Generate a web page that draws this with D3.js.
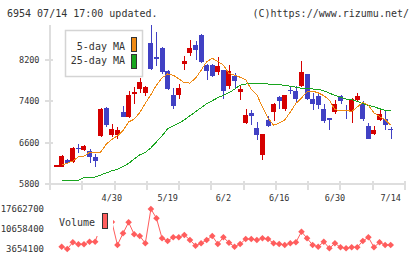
<!DOCTYPE html>
<html>
<head>
<meta charset="utf-8">
<script src="https://cdn.jsdelivr.net/npm/d3@7"></script>
<style>
  body { margin: 0; background: #fff; }
  svg { display: block; }
  text { font-family: "DejaVu Sans Mono", monospace; fill: #333; }
</style>
</head>
<body>
<div id="chart"></div>
<script>
// daily candles, oldest first (last one is 07/14)
var opens = [6160, 6135, 6265, 6232, 6497, 6459, 6433, 6329, 6730, 7259,
             6749, 6749, 7189, 7092, 7555, 7640, 7557, 8525, 8254, 8434,
             7982, 7524, 7524, 8125, 8337, 8479, 8686, 8105, 8105, 7956,
             8008, 7685, 7879, 7582, 6987, 7170, 6878, 6362, 7040, 7181,
             7479, 7253, 7621, 7588, 7698, 7931, 7447, 7505, 7253, 7073,
             7181, 7505, 7233, 7200, 7414, 7350, 6923, 6768, 7040, 7059, 6865];
var highs = [6166, 6360, 6280, 6510, 6575, 6560, 6484, 6381, 7265, 7278,
             6949, 6910, 7297, 7601, 7673, 7853, 7698, 8880, 8731, 8440,
             7995, 7654, 7737, 8279, 8576, 8556, 8705, 8110, 8120, 8254,
             8010, 8092, 7944, 7718, 7253, 7220, 6994, 6770, 7117, 7355,
             7491, 7524, 7698, 7685, 8169, 7931, 7557, 7557, 7350, 7080,
             7427, 7524, 7330, 7460, 7557, 7394, 6975, 6923, 7233, 7233, 6910];
var lows  = [6158, 6125, 6200, 6215, 6395, 6440, 6213, 6135, 6710, 6910,
             6705, 6666, 7085, 7073, 7350, 7557, 7491, 7995, 8072, 7925,
             7607, 7253, 7447, 7995, 8279, 8201, 8145, 7814, 7870, 7911,
             7440, 7634, 7654, 7427, 6962, 6943, 6652, 6265, 6898, 7026,
             7253, 7200, 7543, 7363, 7673, 7414, 7233, 7253, 6975, 6833,
             7156, 7350, 7059, 6987, 7394, 7026, 6672, 6749, 7020, 6846, 6666];
var closes = [6164, 6342, 6213, 6497, 6472, 6536, 6329, 6251, 7253, 6943,
              6871, 6833, 7092, 7524, 7570, 7762, 7673, 8022, 8215, 7962,
              7634, 7311, 7654, 8183, 8434, 8389, 8150, 7976, 7879, 8086,
              7588, 7976, 7782, 7634, 7137, 7104, 6749, 6762, 6923, 7350,
              7394, 7524, 7588, 7446, 7963, 7447, 7350, 7330, 7008, 7040,
              7350, 7394, 7208, 7446, 7491, 7059, 6672, 6846, 7156, 6943, 6833];

// moving averages as plotted
var ma5 = [null, 6168, 6200, 6245, 6323, 6337, 6412, 6409, 6417, 6568,
           6662, 6729, 6830, 6998, 7053, 7178, 7356, 7524, 7710, 7848,
           7927, 7901, 7829, 7755, 7749, 7843, 7994, 8162, 8226, 8166,
           8096, 7936, 7901, 7862, 7813, 7623, 7527, 7281, 7077, 6935,
           6978, 7036, 7191, 7356, 7460, 7583, 7594, 7559, 7507, 7420,
           7235, 7216, 7224, 7200, 7288, 7378, 7320, 7175, 7102, 7043, 6934];
var ma25 = [null, 5872, 5872, 5872, 5872, 5922, 5926, 5936, 5974, 6013,
            6056, 6081, 6139, 6197, 6284, 6362, 6410, 6497, 6614, 6730,
            6865, 6923, 6972, 7040, 7117, 7195, 7272, 7350, 7408, 7466,
            7514, 7563, 7630, 7708, 7731, 7737, 7737, 7737, 7731, 7724,
            7718, 7704, 7689, 7669, 7650, 7640, 7634, 7630, 7601, 7553,
            7514, 7476, 7441, 7427, 7398, 7350, 7320, 7291, 7253, 7224, 7220];

// volume (first day has none)
var volumes = [null, 4460000, 3654100, 6000000, 5300000, 5300000, 6210000, 6210000, 11700000, 12400000,
               13100000, 5060000, 9150000, 13000000, 8800000, 8210000, 5650000, 17662700, 14410000, 7400000,
               6460000, 7750000, 7750000, 8560000, 6810000, 4810000, 5650000, 6810000, 8210000, 5400000,
               7750000, 5860000, 4460000, 5400000, 7160000, 7160000, 6810000, 7400000, 7160000, 5650000,
               5400000, 5060000, 5650000, 6000000, 9710000, 7400000, 5060000, 4460000, 6210000, 3900000,
               5650000, 4250000, 3900000, 4250000, 4250000, 6460000, 7750000, 4250000, 6000000, 5060000, 5060000];

// axis labels
var priceTicks = [5800, 6600, 7400, 8200];
var volumeTicks = [3654100, 10658400, 17662700];
var dateLabels = ["4/30", "5/19", "6/2", "6/16", "6/30", "7/14"];
var dateLabelIndex = [10, 20, 30, 40, 50, 60];

var stockChart = function () {

    var exports = {},
        svg = null,
        width = 420,
        height = 259,
        // price panel box
        plot = {left: 50, right: 405, top: 25, bottom: 184},
        // candle colours: up red, down blue
        upColour = '#d50000',
        downColour = '#4141c4',
        ma5Colour = '#ef8a14',
        ma25Colour = '#18a51e',
        volColour = '#ff5d5d',
        gridColour = '#dedede',
        bodyWidth = 5;

    var x = d3.scaleLinear().domain([0, closes.length - 1]).range([56.1, 390.7]),
        y = d3.scaleLinear().domain([5800, 8200]).range([184, 59.7]),
        yv = d3.scaleLinear().domain([3654100, 17662700]).range([249, 209]),
        // weekly grid ticks along the bottom
        xt = d3.scaleLinear().domain([0, 11]).range([plot.left, plot.right]);

    var px = function (v) { return Math.round(v) + 0.5; };

    var drawAxes = function () {
        var g = svg.append('g');

        g.append('line')
            .attr('x1', plot.left).attr('x2', plot.left)
            .attr('y1', plot.top).attr('y2', plot.bottom + 6)
            .style('stroke', gridColour).style('stroke-width', 2);

        g.append('line')
            .attr('x1', plot.left).attr('x2', plot.right)
            .attr('y1', plot.bottom).attr('y2', plot.bottom)
            .style('stroke', gridColour).style('stroke-width', 2);

        g.selectAll('.xtick')
            .data(d3.range(12))
            .enter().append('line')
            .attr('x1', function (d) { return Math.round(xt(d)); })
            .attr('x2', function (d) { return Math.round(xt(d)); })
            .attr('y1', plot.bottom - 3)
            .attr('y2', plot.bottom + 6)
            .style('stroke', gridColour).style('stroke-width', 2);

        g.selectAll('.ytick')
            .data(priceTicks)
            .enter().append('line')
            .attr('x1', plot.left - 5).attr('x2', plot.left + 3)
            .attr('y1', function (d) { return Math.round(y(d)); })
            .attr('y2', function (d) { return Math.round(y(d)); })
            .style('stroke', gridColour).style('stroke-width', 2);

        g.selectAll('.ylabel')
            .data(priceTicks)
            .enter().append('text')
            .attr('x', 39.5)
            .attr('y', function (d) { return y(d) + 3; })
            .attr('text-anchor', 'end')
            .style('font-size', '8.5px')
            .text(function (d) { return d; });

        g.selectAll('.xlabel')
            .data(dateLabels)
            .enter().append('text')
            .attr('x', function (d, i) { return x(dateLabelIndex[i]); })
            .attr('y', 201)
            .attr('text-anchor', 'middle')
            .style('font-size', '8.5px')
            .text(function (d) { return d; });

        g.selectAll('.vlabel')
            .data(volumeTicks)
            .enter().append('text')
            .attr('x', 44)
            .attr('y', function (d) { return yv(d) + 3; })
            .attr('text-anchor', 'end')
            .style('font-size', '9px')
            .text(function (d) { return d; });
    };

    var drawCandles = function () {
        svg.append('clipPath').attr('id', 'plotclip')
            .append('rect')
            .attr('x', plot.left).attr('y', plot.top)
            .attr('width', plot.right - plot.left).attr('height', plot.bottom - plot.top);

        var g = svg.append('g')
            .attr('clip-path', 'url(#plotclip)')
            .attr('shape-rendering', 'crispEdges');

        var idx = d3.range(closes.length);
        var colour = function (i) { return closes[i] >= opens[i] ? upColour : downColour; };

        g.selectAll('.wick')
            .data(idx)
            .enter().append('line')
            .attr('x1', function (i) { return px(x(i)); })
            .attr('x2', function (i) { return px(x(i)); })
            .attr('y1', function (i) { return y(highs[i]); })
            .attr('y2', function (i) { return y(lows[i]); })
            .style('stroke', colour);

        g.selectAll('.body')
            .data(idx)
            .enter().append('rect')
            .attr('x', function (i) { return Math.round(x(i) - bodyWidth / 2); })
            .attr('width', bodyWidth)
            .attr('y', function (i) { return y(Math.max(opens[i], closes[i])); })
            .attr('height', function (i) {
                return Math.max(1.5, Math.abs(y(opens[i]) - y(closes[i])));
            })
            .style('fill', colour);

        var line = function (arr) {
            return d3.line()
                .defined(function (i) { return arr[i] !== null; })
                .x(function (i) { return x(i); })
                .y(function (i) { return y(arr[i]); })(idx);
        };

        g.append('path').attr('d', line(ma25))
            .style('fill', 'none').style('stroke', ma25Colour).style('stroke-width', 1);
        g.append('path').attr('d', line(ma5))
            .style('fill', 'none').style('stroke', ma5Colour).style('stroke-width', 1);
    };

    var drawVolume = function () {
        var idx = d3.range(volumes.length).filter(function (i) { return volumes[i] !== null; });
        var g = svg.append('g');

        g.append('path')
            .attr('d', d3.line()
                .x(function (i) { return x(i); })
                .y(function (i) { return yv(volumes[i]); })(idx))
            .style('fill', 'none').style('stroke', volColour).style('stroke-width', 1);

        g.selectAll('.vdot')
            .data(idx)
            .enter().append('path')
            .attr('transform', function (i) { return 'translate(' + x(i) + ',' + yv(volumes[i]) + ')'; })
            .attr('d', 'M0,-3.3L3.3,0L0,3.3L-3.3,0Z')
            .style('fill', volColour);

        // legend box sits over the line
        g.append('rect')
            .attr('x', 55).attr('y', 205).attr('width', 58).attr('height', 31)
            .style('fill', '#fff');
        g.append('text')
            .attr('x', 59).attr('y', 226)
            .style('font-size', '10px')
            .text('Volume');
        g.append('rect')
            .attr('x', 102.5).attr('y', 213.5).attr('width', 5).attr('height', 15)
            .style('fill', volColour).style('stroke', '#333').style('stroke-width', 1);
    };

    var drawLegend = function () {
        var g = svg.append('g');
        g.append('rect')
            .attr('x', 65.5).attr('y', 30.5).attr('width', 77).attr('height', 46)
            .style('fill', '#fff').style('stroke', '#d4d4d4').style('stroke-width', 1.5);

        var items = [['5-day MA', ma5Colour], ['25-day MA', ma25Colour]];
        items.forEach(function (d, i) {
            g.append('text')
                .attr('x', 125).attr('y', 50 + i * 14.3)
                .attr('text-anchor', 'end')
                .style('font-size', '10px')
                .text(d[0]);
            g.append('rect')
                .attr('x', 131.5).attr('y', 37.5 + i * 17).attr('width', 5).attr('height', 14)
                .style('fill', d[1]).style('stroke', '#333').style('stroke-width', 1);
        });
    };

    exports.draw = function () {
        svg = d3.select('#chart').append('svg')
            .attr('width', width)
            .attr('height', height);

        svg.append('text')
            .attr('x', 7).attr('y', 17)
            .style('font-size', '10px')
            .text('6954 07/14 17:00 updated.');
        svg.append('text')
            .attr('x', 409).attr('y', 17)
            .attr('text-anchor', 'end')
            .style('font-size', '10px')
            .text('(C)https://www.rizumu.net/');

        drawAxes();
        drawCandles();
        drawVolume();
        drawLegend();
        return exports;
    };

    return exports;
};

stockChart().draw();
</script>
</body>
</html>
